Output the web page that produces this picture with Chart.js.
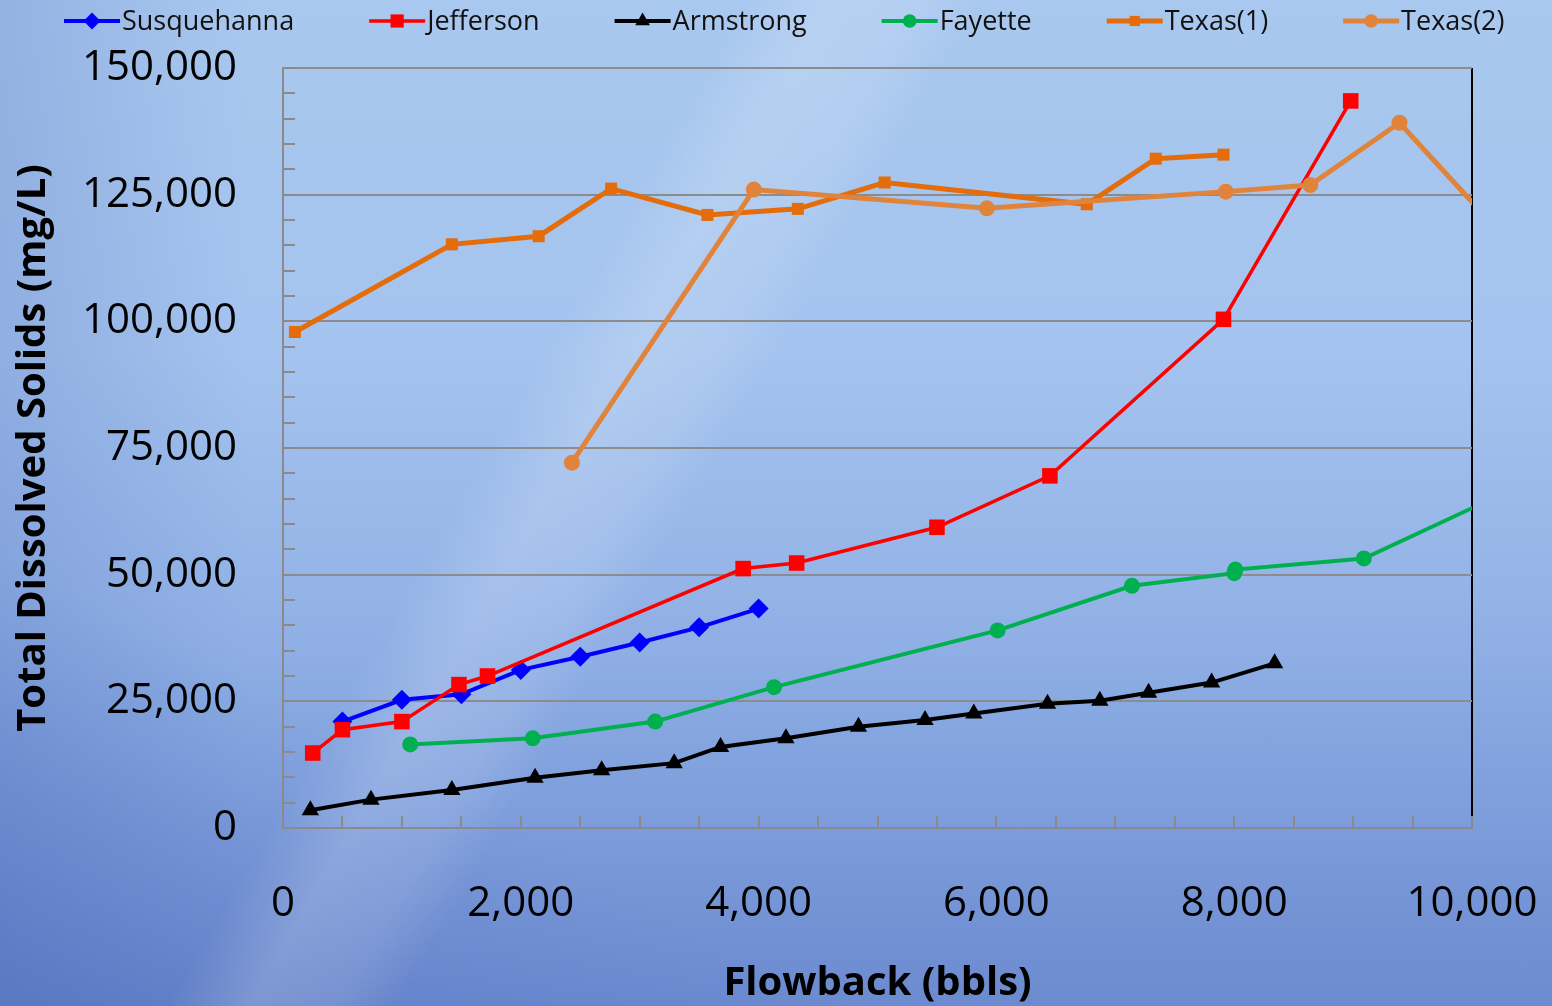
<!DOCTYPE html>
<html lang="en">
<head>
  <meta charset="UTF-8">
  <title>Total Dissolved Solids vs Flowback</title>
  <script src="https://cdn.jsdelivr.net/npm/chart.js@4"></script>
  <style>
    html, body { margin: 0; padding: 0; }
    body {
      width: 1552px;
      height: 1006px;
      overflow: hidden;
      background:
        linear-gradient(120deg, rgba(255,255,255,0) 35%, rgba(255,255,255,0.17) 39%, rgba(255,255,255,0.12) 43%, rgba(255,255,255,0) 46%),
        linear-gradient(28deg, rgba(60,90,175,0.25) 0%, rgba(60,90,175,0) 25%),
        linear-gradient(to right, rgba(70,100,180,0.22) 0%, rgba(70,100,180,0) 16%),
        linear-gradient(to bottom, #a9c8ef 0%, #a4c3ee 35%, #93b3e7 60%, #7e9edc 80%, #6c8acf 100%);
    }
    #wrap { position: relative; width: 1552px; height: 1006px; }
  </style>
</head>
<body>
<div id="wrap">
  <canvas id="tdsChart" width="1552" height="1006"></canvas>
</div>

<script>
  // values (x = bbls, y = mg/L)
  const seriesNames = ['Susquehanna', 'Jefferson', 'Armstrong', 'Fayette', 'Texas(1)', 'Texas(2)'];

  const susqX = [500, 1000, 1500, 2000, 2500, 3000, 3500, 4000];
  const susqY = [21000, 25300, 26400, 31200, 33800, 36600, 39600, 43300];

  const jeffX = [250, 500, 1000, 1480, 1720, 3870, 4320, 5500, 6450, 7910, 8980];
  const jeffY = [14800, 19400, 21000, 28300, 30000, 51200, 52300, 59350, 69500, 100400, 143500];

  const armX = [230, 740, 1420, 2120, 2680, 3290, 3680, 4230, 4840, 5400, 5810, 6430, 6870, 7280, 7810, 8340];
  const armY = [3500, 5600, 7500, 9900, 11400, 12800, 16000, 17700, 20000, 21300, 22600, 24500, 25100, 26700, 28700, 32500];

  const fayX = [1070, 2100, 3130, 4130, 6010, 7140, 8000, 8010, 9090, 10300];
  const fayY = [16500, 17700, 21000, 27800, 39000, 47800, 50300, 51000, 53200, 66400];

  const tex1X = [100, 1420, 2150, 2760, 3570, 4330, 5060, 6760, 7340, 7910];
  const tex1Y = [97900, 115200, 116800, 126200, 121000, 122200, 127400, 123100, 132100, 132900];

  const tex2X = [2430, 3960, 5920, 7930, 8640, 9390, 10100];
  const tex2Y = [72100, 126000, 122300, 125600, 126900, 139200, 121000];

  const xLabelValues = [0, 2000, 4000, 6000, 8000, 10000];
  const yLabelValues = [0, 25000, 50000, 75000, 100000, 125000, 150000];

  // look of each series
  const styles = [
    { color: '#0000ff', marker: 'rectRot',  r: 10,  w: 4 },
    { color: '#ff0000', marker: 'rect',     r: 11,  w: 3.5 },
    { color: '#000000', marker: 'triangle', r: 10,  w: 4 },
    { color: '#00b050', marker: 'circle',   r: 8,   w: 4 },
    { color: '#e46c0a', marker: 'rect',     r: 8.5, w: 5 },
    { color: '#e0833b', marker: 'circle',   r: 8,   w: 5 }
  ];

  function toPoints(xs, ys) {
    return xs.map((x, i) => ({ x: x, y: ys[i] }));
  }

  const seriesData = [
    toPoints(susqX, susqY),
    toPoints(jeffX, jeffY),
    toPoints(armX, armY),
    toPoints(fayX, fayY),
    toPoints(tex1X, tex1Y),
    toPoints(tex2X, tex2Y)
  ];

  const datasets = seriesNames.map((name, i) => ({
    label: name,
    data: seriesData[i],
    showLine: true,
    tension: 0,
    borderColor: styles[i].color,
    backgroundColor: styles[i].color,
    borderWidth: styles[i].w,
    pointStyle: styles[i].marker,
    pointRadius: styles[i].r,
    pointHoverRadius: styles[i].r,
    pointBorderWidth: 0,
    order: seriesNames.length - i   // later series drawn on top
  }));

  // legend in the top strip: line + marker, then the name
  const lineLegend = {
    id: 'lineLegend',
    afterDraw(chart) {
      const ctx = chart.ctx;
      ctx.save();
      ctx.font = '27px "Open Sans"';
      ctx.textBaseline = 'middle';
      let x = 64;
      const y = 21;
      chart.data.datasets.forEach((ds, i) => {
        const st = styles[i];
        ctx.strokeStyle = st.color;
        ctx.lineWidth = st.w;
        ctx.beginPath();
        ctx.moveTo(x, y);
        ctx.lineTo(x + 56, y);
        ctx.stroke();
        ctx.fillStyle = st.color;
        Chart.helpers.drawPoint(ctx, { pointStyle: st.marker, radius: st.r * 0.85, rotation: 0, borderWidth: 0 }, x + 28, y);
        ctx.fillStyle = '#111';
        ctx.fillText(ds.label, x + 58, y + 1);
        x += 58 + ctx.measureText(ds.label).width + 75;
      });
      ctx.restore();
    }
  };

  const tickFont = { family: 'Open Sans', size: 42 };
  const titleFont = { family: 'Open Sans', size: 40, weight: 'bold', lineHeight: 1.1 };

  new Chart(document.getElementById('tdsChart'), {
    type: 'scatter',
    data: { datasets: datasets },
    plugins: [lineLegend],
    options: {
      responsive: false,
      animation: false,
      layout: { padding: { top: 68, right: 80, bottom: 0, left: 0 } },
      plugins: {
        legend: { display: false },
        tooltip: { enabled: false }
      },
      scales: {
        x: {
          type: 'linear',
          min: 0,
          max: 10000,
          afterFit: s => { s.height = 178; s.paddingLeft = 0; s.paddingRight = 0; },
          ticks: {
            stepSize: 500,
            autoSkip: false,
            maxRotation: 0,
            padding: 63,
            color: '#000',
            font: tickFont,
            callback: v => xLabelValues.includes(v) ? v.toLocaleString('en-US') : ''
          },
          grid: {
            color: c => (c.tick && c.tick.value === 10000) ? '#000' : 'rgba(0,0,0,0)',
            lineWidth: 2,
            tickLength: -12,
            tickColor: '#8a8a8a',
            tickWidth: 2
          },
          border: { color: '#8a8a8a', width: 2 },
          title: { display: true, text: 'Flowback (bbls)', color: '#000', font: titleFont, padding: 0 }
        },
        y: {
          min: 0,
          max: 150000,
          afterFit: s => { s.width = 283; s.paddingTop = 0; s.paddingBottom = 0; },
          ticks: {
            stepSize: 5000,
            autoSkip: false,
            padding: 58,
            color: '#000',
            font: tickFont,
            callback: v => yLabelValues.includes(v) ? v.toLocaleString('en-US') : ''
          },
          grid: {
            color: c => (c.tick && c.tick.value > 0 && yLabelValues.includes(c.tick.value)) ? '#8c8c8c' : 'rgba(0,0,0,0)',
            lineWidth: 2,
            tickLength: -12,
            tickColor: '#8a8a8a',
            tickWidth: 2
          },
          border: { color: '#8a8a8a', width: 2 },
          title: { display: true, text: 'Total Dissolved Solids (mg/L)', color: '#000', font: titleFont, padding: { top: 12, bottom: 0 } }
        }
      }
    }
  });
</script>
</body>
</html>
